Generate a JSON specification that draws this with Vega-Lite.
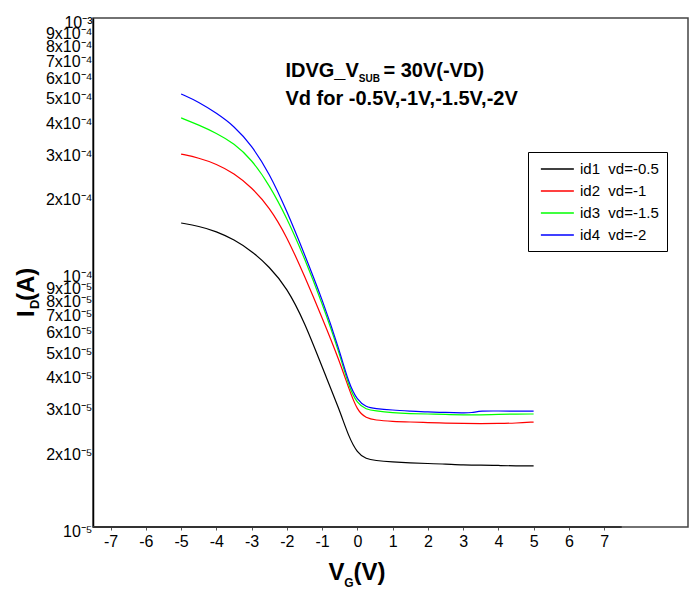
{
  "$schema": "https://vega.github.io/schema/vega-lite/v6.json",
  "width": 595,
  "height": 509,
  "autosize": {"type": "none"},
  "padding": {"left": 93, "top": 18, "right": 1, "bottom": 63},
  "config": {
    "font": "Liberation Sans",
    "view": {"stroke": "#444", "strokeWidth": 1.5},
    "text": {"font": "Liberation Sans", "fontWeight": "bold", "color": "#000"}
  },
  "layer": [
    {
      "data": {
        "values": [
          {"series": "id1  vd=-0.5", "vg": -5, "id": 1.565e-4},
          {"series": "id1  vd=-0.5", "vg": -4.5, "id": 1.52e-4},
          {"series": "id1  vd=-0.5", "vg": -4, "id": 1.452e-4},
          {"series": "id1  vd=-0.5", "vg": -3.5, "id": 1.347e-4},
          {"series": "id1  vd=-0.5", "vg": -3, "id": 1.215e-4},
          {"series": "id1  vd=-0.5", "vg": -2.5, "id": 1.055e-4},
          {"series": "id1  vd=-0.5", "vg": -2, "id": 8.71e-5},
          {"series": "id1  vd=-0.5", "vg": -1.5, "id": 6.39e-5},
          {"series": "id1  vd=-0.5", "vg": -1, "id": 4.25e-5},
          {"series": "id1  vd=-0.5", "vg": -0.5, "id": 2.87e-5},
          {"series": "id1  vd=-0.5", "vg": -0.25, "id": 2.27e-5},
          {"series": "id1  vd=-0.5", "vg": 0, "id": 1.95e-5},
          {"series": "id1  vd=-0.5", "vg": 0.25, "id": 1.85e-5},
          {"series": "id1  vd=-0.5", "vg": 0.5, "id": 1.825e-5},
          {"series": "id1  vd=-0.5", "vg": 1, "id": 1.8e-5},
          {"series": "id1  vd=-0.5", "vg": 1.5, "id": 1.784e-5},
          {"series": "id1  vd=-0.5", "vg": 2, "id": 1.776e-5},
          {"series": "id1  vd=-0.5", "vg": 2.5, "id": 1.768e-5},
          {"series": "id1  vd=-0.5", "vg": 3, "id": 1.752e-5},
          {"series": "id1  vd=-0.5", "vg": 3.5, "id": 1.752e-5},
          {"series": "id1  vd=-0.5", "vg": 4, "id": 1.745e-5},
          {"series": "id1  vd=-0.5", "vg": 4.5, "id": 1.737e-5},
          {"series": "id1  vd=-0.5", "vg": 5, "id": 1.737e-5},

          {"series": "id2  vd=-1", "vg": -5, "id": 2.92e-4},
          {"series": "id2  vd=-1", "vg": -4.5, "id": 2.82e-4},
          {"series": "id2  vd=-1", "vg": -4, "id": 2.67e-4},
          {"series": "id2  vd=-1", "vg": -3.5, "id": 2.455e-4},
          {"series": "id2  vd=-1", "vg": -3, "id": 2.16e-4},
          {"series": "id2  vd=-1", "vg": -2.5, "id": 1.81e-4},
          {"series": "id2  vd=-1", "vg": -2, "id": 1.385e-4},
          {"series": "id2  vd=-1", "vg": -1.5, "id": 9.69e-5},
          {"series": "id2  vd=-1", "vg": -1, "id": 6.65e-5},
          {"series": "id2  vd=-1", "vg": -0.5, "id": 4.46e-5},
          {"series": "id2  vd=-1", "vg": -0.25, "id": 3.52e-5},
          {"series": "id2  vd=-1", "vg": 0, "id": 2.855e-5},
          {"series": "id2  vd=-1", "vg": 0.25, "id": 2.68e-5},
          {"series": "id2  vd=-1", "vg": 0.5, "id": 2.63e-5},
          {"series": "id2  vd=-1", "vg": 1, "id": 2.6e-5},
          {"series": "id2  vd=-1", "vg": 1.5, "id": 2.585e-5},
          {"series": "id2  vd=-1", "vg": 2, "id": 2.573e-5},
          {"series": "id2  vd=-1", "vg": 2.5, "id": 2.56e-5},
          {"series": "id2  vd=-1", "vg": 3, "id": 2.55e-5},
          {"series": "id2  vd=-1", "vg": 3.5, "id": 2.55e-5},
          {"series": "id2  vd=-1", "vg": 4, "id": 2.55e-5},
          {"series": "id2  vd=-1", "vg": 4.5, "id": 2.56e-5},
          {"series": "id2  vd=-1", "vg": 5, "id": 2.585e-5},

          {"series": "id3  vd=-1.5", "vg": -5, "id": 4.05e-4},
          {"series": "id3  vd=-1.5", "vg": -4.5, "id": 3.8e-4},
          {"series": "id3  vd=-1.5", "vg": -4, "id": 3.53e-4},
          {"series": "id3  vd=-1.5", "vg": -3.5, "id": 3.22e-4},
          {"series": "id3  vd=-1.5", "vg": -3, "id": 2.78e-4},
          {"series": "id3  vd=-1.5", "vg": -2.5, "id": 2.21e-4},
          {"series": "id3  vd=-1.5", "vg": -2, "id": 1.64e-4},
          {"series": "id3  vd=-1.5", "vg": -1.5, "id": 1.14e-4},
          {"series": "id3  vd=-1.5", "vg": -1, "id": 7.59e-5},
          {"series": "id3  vd=-1.5", "vg": -0.5, "id": 4.78e-5},
          {"series": "id3  vd=-1.5", "vg": -0.25, "id": 3.58e-5},
          {"series": "id3  vd=-1.5", "vg": 0, "id": 3.04e-5},
          {"series": "id3  vd=-1.5", "vg": 0.25, "id": 2.9e-5},
          {"series": "id3  vd=-1.5", "vg": 0.5, "id": 2.86e-5},
          {"series": "id3  vd=-1.5", "vg": 1, "id": 2.81e-5},
          {"series": "id3  vd=-1.5", "vg": 1.5, "id": 2.79e-5},
          {"series": "id3  vd=-1.5", "vg": 2, "id": 2.78e-5},
          {"series": "id3  vd=-1.5", "vg": 2.5, "id": 2.77e-5},
          {"series": "id3  vd=-1.5", "vg": 3, "id": 2.755e-5},
          {"series": "id3  vd=-1.5", "vg": 3.5, "id": 2.755e-5},
          {"series": "id3  vd=-1.5", "vg": 4, "id": 2.77e-5},
          {"series": "id3  vd=-1.5", "vg": 4.5, "id": 2.78e-5},
          {"series": "id3  vd=-1.5", "vg": 5, "id": 2.78e-5},

          {"series": "id4  vd=-2", "vg": -5, "id": 5.03e-4},
          {"series": "id4  vd=-2", "vg": -4.5, "id": 4.68e-4},
          {"series": "id4  vd=-2", "vg": -4, "id": 4.23e-4},
          {"series": "id4  vd=-2", "vg": -3.5, "id": 3.77e-4},
          {"series": "id4  vd=-2", "vg": -3, "id": 3.16e-4},
          {"series": "id4  vd=-2", "vg": -2.5, "id": 2.46e-4},
          {"series": "id4  vd=-2", "vg": -2, "id": 1.745e-4},
          {"series": "id4  vd=-2", "vg": -1.5, "id": 1.18e-4},
          {"series": "id4  vd=-2", "vg": -1, "id": 7.87e-5},
          {"series": "id4  vd=-2", "vg": -0.5, "id": 4.92e-5},
          {"series": "id4  vd=-2", "vg": -0.25, "id": 3.68e-5},
          {"series": "id4  vd=-2", "vg": 0, "id": 3.14e-5},
          {"series": "id4  vd=-2", "vg": 0.25, "id": 2.96e-5},
          {"series": "id4  vd=-2", "vg": 0.5, "id": 2.92e-5},
          {"series": "id4  vd=-2", "vg": 1, "id": 2.88e-5},
          {"series": "id4  vd=-2", "vg": 1.5, "id": 2.855e-5},
          {"series": "id4  vd=-2", "vg": 2, "id": 2.83e-5},
          {"series": "id4  vd=-2", "vg": 2.5, "id": 2.82e-5},
          {"series": "id4  vd=-2", "vg": 3, "id": 2.805e-5},
          {"series": "id4  vd=-2", "vg": 3.25, "id": 2.81e-5},
          {"series": "id4  vd=-2", "vg": 3.5, "id": 2.86e-5},
          {"series": "id4  vd=-2", "vg": 4, "id": 2.855e-5},
          {"series": "id4  vd=-2", "vg": 4.5, "id": 2.855e-5},
          {"series": "id4  vd=-2", "vg": 5, "id": 2.855e-5}
        ]
      },
      "mark": {"type": "line", "strokeWidth": 1.2, "interpolate": "basis"},
      "encoding": {
        "x": {
          "field": "vg",
          "type": "quantitative",
          "scale": {"domain": [-7.5, 9.38], "nice": false, "zero": false},
          "axis": {
            "title": null,
            "grid": false,
            "domain": false,
            "values": [-7, -6.5, -6, -5.5, -5, -4.5, -4, -3.5, -3, -2.5, -2, -1.5, -1, -0.5, 0, 0.5, 1, 1.5, 2, 2.5, 3, 3.5, 4, 4.5, 5, 5.5, 6, 6.5, 7, 7.5],
            "labelExpr": "datum.value % 1 === 0 ? '' + datum.value : ''",
            "labelFont": "Liberation Sans",
            "labelFontSize": 16,
            "labelColor": "#000",
            "labelPadding": 3,
            "tickSize": 3,
            "tickColor": "#555",
            "labelOverlap": false
          }
        },
        "y": {
          "field": "id",
          "type": "quantitative",
          "scale": {"type": "log", "domain": [0.00001, 0.001], "nice": false},
          "axis": {
            "title": null,
            "grid": false,
            "ticks": false,
            "domainColor": "#000",
            "domainWidth": 1.5,
            "values": [0.00001, 0.00002, 0.00003, 0.00004, 0.00005, 0.00006, 0.00007, 0.00008, 0.00009, 0.0001, 0.0002, 0.0003, 0.0004, 0.0005, 0.0006, 0.0007, 0.0008, 0.0009, 0.001],
            "labelExpr": "(round(datum.value/pow(10,floor(log(datum.value)/LN10+1e-6)))==1 ? '' : round(datum.value/pow(10,floor(log(datum.value)/LN10+1e-6))) + 'x') + '10' + (floor(log(datum.value)/LN10+1e-6)==-5 ? '⁻⁵' : floor(log(datum.value)/LN10+1e-6)==-4 ? '⁻⁴' : '⁻³')",
            "labelFont": "Liberation Sans",
            "labelFontSize": 16,
            "labelColor": "#000",
            "labelPadding": 1,
            "labelOffset": 4,
            "labelOverlap": false
          }
        },
        "color": {
          "field": "series",
          "type": "nominal",
          "scale": {
            "domain": ["id1  vd=-0.5", "id2  vd=-1", "id3  vd=-1.5", "id4  vd=-2"],
            "range": ["#000000", "#ff0000", "#00ff00", "#0000ff"]
          },
          "legend": {
            "title": null,
            "orient": "none",
            "legendX": 435,
            "legendY": 134,
            "strokeColor": "#000",
            "fillColor": "#fff",
            "padding": 8,
            "symbolType": "M-0.5,0H3.5",
            "symbolSize": 272,
            "symbolStrokeWidth": 1.5,
            "labelFont": "Liberation Sans",
            "labelFontSize": 15,
            "labelColor": "#000",
            "labelOffset": 26,
            "rowPadding": 5,
            "labelExpr": "replace(datum.label, regexp(' ', 'g'), '\u00a0') + '\u00a0'"
          }
        }
      }
    },
    {
      "data": {"values": [{}]},
      "mark": {"type": "rule", "color": "#333", "strokeWidth": 2},
      "encoding": {"x": {"datum": -7.5}, "x2": {"datum": 7.5}, "y": {"datum": 0.00001}}
    },
    {
      "data": {"values": [{}]},
      "mark": {"type": "text", "fontSize": 20, "align": "left", "baseline": "alphabetic"},
      "encoding": {"x": {"datum": -2.04}, "y": {"datum": 0.000588}, "text": {"value": "IDVG_V"}}
    },
    {
      "data": {"values": [{}]},
      "mark": {"type": "text", "fontSize": 10, "align": "left", "baseline": "alphabetic"},
      "encoding": {"x": {"datum": 0.04}, "y": {"datum": 0.000562}, "text": {"value": "SUB"}}
    },
    {
      "data": {"values": [{}]},
      "mark": {"type": "text", "fontSize": 20, "align": "left", "baseline": "alphabetic"},
      "encoding": {"x": {"datum": 0.74}, "y": {"datum": 0.000588}, "text": {"value": "= 30V(-VD)"}}
    },
    {
      "data": {"values": [{}]},
      "mark": {"type": "text", "fontSize": 20, "align": "left", "baseline": "alphabetic"},
      "encoding": {"x": {"datum": -2.04}, "y": {"datum": 0.000455}, "text": {"value": "Vd for -0.5V,-1V,-1.5V,-2V"}}
    },
    {
      "data": {"values": [{}]},
      "mark": {"type": "text", "fontSize": 24, "align": "left", "baseline": "alphabetic", "angle": 270},
      "encoding": {"x": {"datum": -9.18}, "y": {"datum": 0.0000668}, "text": {"value": "I"}}
    },
    {
      "data": {"values": [{}]},
      "mark": {"type": "text", "fontSize": 13, "align": "left", "baseline": "alphabetic", "angle": 270},
      "encoding": {"x": {"datum": -9.03}, "y": {"datum": 0.0000719}, "text": {"value": "D"}}
    },
    {
      "data": {"values": [{}]},
      "mark": {"type": "text", "fontSize": 24, "align": "left", "baseline": "alphabetic", "angle": 270},
      "encoding": {"x": {"datum": -9.18}, "y": {"datum": 0.0000773}, "text": {"value": "(A)"}}
    },
    {
      "data": {"values": [{}]},
      "mark": {"type": "text", "fontSize": 24, "align": "left", "baseline": "alphabetic"},
      "encoding": {"x": {"datum": -0.82}, "y": {"datum": 0.00000619}, "text": {"value": "V"}}
    },
    {
      "data": {"values": [{}]},
      "mark": {"type": "text", "fontSize": 12, "align": "left", "baseline": "alphabetic"},
      "encoding": {"x": {"datum": -0.37}, "y": {"datum": 0.00000581}, "text": {"value": "G"}}
    },
    {
      "data": {"values": [{}]},
      "mark": {"type": "text", "fontSize": 24, "align": "left", "baseline": "alphabetic"},
      "encoding": {"x": {"datum": -0.11}, "y": {"datum": 0.00000619}, "text": {"value": "(V)"}}
    }
  ]
}
